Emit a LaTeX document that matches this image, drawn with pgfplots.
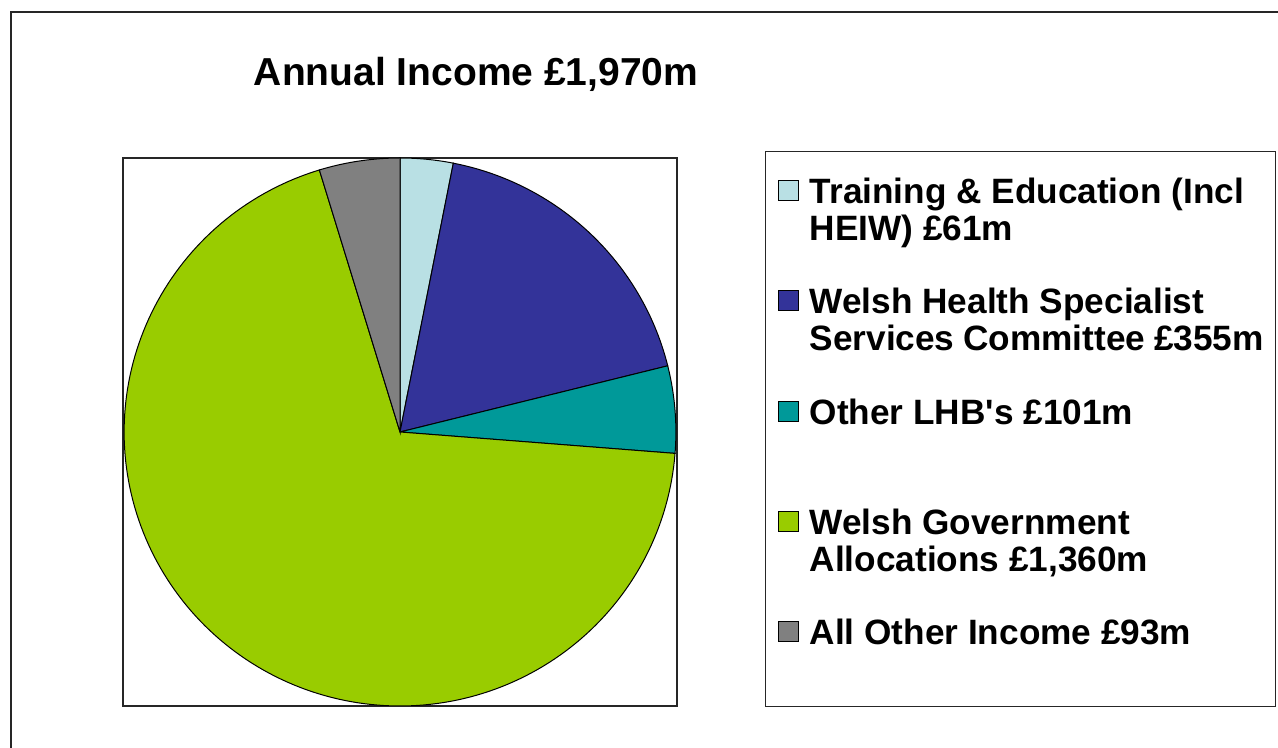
\documentclass[border=0pt]{standalone}
\usepackage{fontspec}
\setmainfont{Liberation Sans}
\usepackage{pgfplots}
\pgfplotsset{compat=1.18}
\definecolor{cTrain}{HTML}{B9E0E4}
\definecolor{cWHSSC}{HTML}{333399}
\definecolor{cLHB}{HTML}{009999}
\definecolor{cWG}{HTML}{99CC00}
\definecolor{cOther}{HTML}{808080}
\begin{document}
\begin{tikzpicture}
\useasboundingbox (0,0) rectangle (639pt,374pt);
\draw[line width=1pt, black!85] (5.5pt,-2pt) -- (5.5pt,368pt) -- (645pt,368pt);
% values (million pounds)
\def\vA{61}\def\vB{355}\def\vC{101}\def\vD{1360}\def\vE{93}
\pgfmathsetmacro\tot{\vA+\vB+\vC+\vD+\vE}
\pgfmathsetmacro\aO{90}
\pgfmathsetmacro\aA{90-360*((\vA)/\tot)}
\pgfmathsetmacro\aB{90-360*((\vA+\vB)/\tot)}
\pgfmathsetmacro\aC{90-360*((\vA+\vB+\vC)/\tot)}
\pgfmathsetmacro\aD{90-360*((\vA+\vB+\vC+\vD)/\tot)}
\pgfmathsetmacro\aE{90-360*((\vA+\vB+\vC+\vD+\vE)/\tot)}
\begin{axis}[
  at={(61.5pt,21pt)}, anchor=south west,
  width=277pt, height=274pt, scale only axis,
  xmin=-1.004, xmax=1.004, ymin=-1, ymax=1,
  xtick=\empty, ytick=\empty,
  axis line style={line width=0.75pt, black!85},
  every axis title shift=0pt,
  title={Annual Income £1,970m},
  title style={at={(0.6372,1.1314)}, anchor=base, inner sep=0pt,
    font=\bfseries\fontsize{19.5}{22}\selectfont},
  legend cell align=left,
  legend image code/.code={\draw[#1,draw=black,line width=0.5pt] (0pt,1.5pt) rectangle (10pt,11.5pt);},
  legend style={at={(1.1588,1.0128)}, anchor=north west,
    draw=black!85, line width=0.75pt, fill=white,
    inner xsep=6pt, inner ysep=13pt, row sep=0pt, column sep=5.5pt,
    nodes={inner sep=0pt, text=black, text depth=, text height=}, cells={anchor=base west},
    font=\bfseries\fontsize{17.6}{18.5}\selectfont},
]
\addplot[fill=cTrain, draw=black, line width=0.5pt, domain=\aA:\aO, samples=30, variable=\t]
  ({cos(\t)},{sin(\t)}) -- (axis cs:0,0) -- cycle;
\addlegendentry{\parbox[t][55.1pt][t]{227pt}{\raggedright\strut Training \& Education (Incl\newline HEIW) £61m}}
\addplot[fill=cWHSSC, draw=black, line width=0.5pt, domain=\aB:\aA, samples=60, variable=\t]
  ({cos(\t)},{sin(\t)}) -- (axis cs:0,0) -- cycle;
\addlegendentry{\parbox[t][55.1pt][t]{227pt}{\raggedright\strut Welsh Health Specialist\newline Services Committee £355m}}
\addplot[fill=cLHB, draw=black, line width=0.5pt, domain=\aC:\aB, samples=30, variable=\t]
  ({cos(\t)},{sin(\t)}) -- (axis cs:0,0) -- cycle;
\addlegendentry{\parbox[t][55.1pt][t]{227pt}{\raggedright\strut Other LHB\textquotesingle s £101m}}
\addplot[fill=cWG, draw=black, line width=0.5pt, domain=\aD:\aC, samples=180, variable=\t]
  ({cos(\t)},{sin(\t)}) -- (axis cs:0,0) -- cycle;
\addlegendentry{\parbox[t][55.1pt][t]{227pt}{\raggedright\strut Welsh Government\newline Allocations £1,360m}}
\addplot[fill=cOther, draw=black, line width=0.5pt, domain=\aE:\aD, samples=30, variable=\t]
  ({cos(\t)},{sin(\t)}) -- (axis cs:0,0) -- cycle;
\addlegendentry{\parbox[t][31pt][t]{227pt}{\raggedright\strut All Other Income £93m}}
\end{axis}
\end{tikzpicture}
\end{document}
